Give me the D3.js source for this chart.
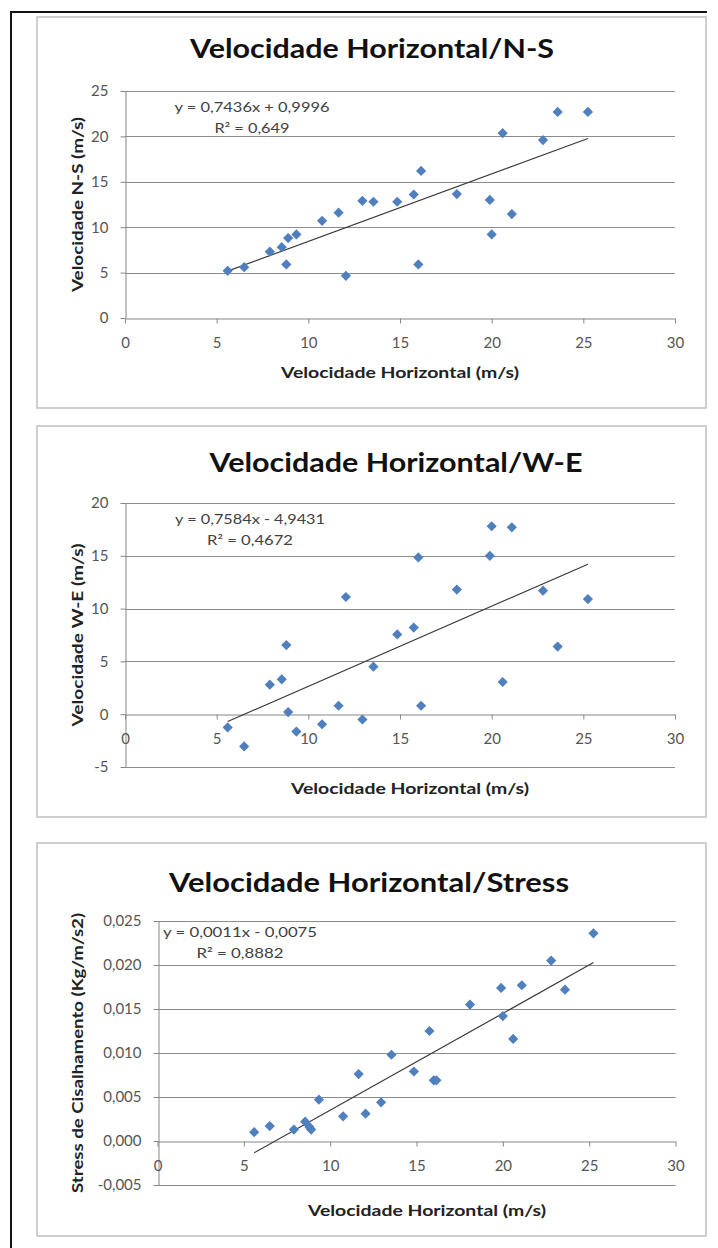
<!DOCTYPE html>
<html>
<head>
<meta charset="utf-8">
<script src="https://cdn.jsdelivr.net/npm/d3@7"></script>
<style>
  body { margin: 0; background: #fff; }
  svg { display: block; }
  text { font-family: Lato, "Open Sans", sans-serif; }
</style>
</head>
<body>
<svg id="sheet" width="718" height="1248"></svg>
<script>
// Horizontal wind speed (m/s) for each observation, shared by all three plots
const horizontalSpeed = [5.6, 6.5, 7.9, 8.55, 8.8, 8.9, 9.35, 10.75, 11.65, 12.05, 12.95, 13.55,
                         14.85, 15.75, 16.0, 16.15, 18.1, 19.9, 20.0, 20.6, 21.1, 22.8, 23.6, 25.25];
// N-S component (m/s)
const speedNS = [5.2, 5.6, 7.3, 7.8, 5.9, 8.8, 9.2, 10.7, 11.6, 4.65, 12.9, 12.8,
                 12.8, 13.6, 5.9, 16.2, 13.65, 13.0, 9.2, 20.35, 11.45, 19.6, 22.7, 22.7];
// W-E component (m/s)
const speedWE = [-1.25, -3.05, 2.8, 3.3, 6.55, 0.2, -1.65, -0.95, 0.8, 11.1, -0.5, 4.5,
                 7.55, 8.2, 14.85, 0.8, 11.8, 15.0, 17.8, 3.05, 17.7, 11.7, 6.4, 10.9];
// Shear stress (Kg/m/s2)
const shearStress = [0.0010, 0.0017, 0.0013, 0.0022, 0.0016, 0.0013, 0.0047, 0.0028, 0.0076, 0.0031, 0.0044, 0.0098,
                     0.0079, 0.0125, 0.0069, 0.0069, 0.0155, 0.0174, 0.0142, 0.0116, 0.0177, 0.0205, 0.0172, 0.0236];

// Axis ticks
const ticksX = [0, 5, 10, 15, 20, 25, 30];
const ticksNS = [0, 5, 10, 15, 20, 25];
const ticksWE = [-5, 0, 5, 10, 15, 20];
const ticksStress = [-0.005, 0, 0.005, 0.010, 0.015, 0.020, 0.025];

// Linear fits printed on each plot
const fitSlopes = [0.7436, 0.7584, 0.0011];
const fitIntercepts = [0.9996, -4.9431, -0.0075];
const fitR2 = ["0,649", "0,4672", "0,8882"];

// Texts
const chartTitles = ["Velocidade Horizontal/N-S", "Velocidade Horizontal/W-E", "Velocidade Horizontal/Stress"];
const yTitles = ["Velocidade N-S (m/s)", "Velocidade W-E  (m/s)", "Stress de Cisalhamento (Kg/m/s2)"];
const xTitle = "Velocidade Horizontal (m/s)";

const comma = s => s.replace(".", ",").replace("\u2212", "-");
const fmtInt = d => comma(d3.format("d")(d));
const fmtStress = d => comma(d3.format(".3f")(d));

// Layout of each panel (pixels)
const panels = [
  { frame: [37, 17, 706, 408], plot: [125, 675, 91, 318], yDomain: [0, 25], yTicks: ticksNS, yValues: speedNS, yFmt: fmtInt,
    title: { x: 372, y: 58, w: 364 }, xt: { x: 400, y: 372 }, yt: { x: 77, w: 175 }, eq: { x: 252, y: 107, w1: 155, w2: 75 } },
  { frame: [37, 426, 706, 817], plot: [125, 675, 503, 767], yDomain: [-5, 20], yTicks: ticksWE, yValues: speedWE, yFmt: fmtInt,
    title: { x: 396, y: 472, w: 373 }, xt: { x: 410, y: 788 }, yt: { x: 77, w: 183 }, eq: { x: 250, y: 519, w1: 150, w2: 86 } },
  { frame: [37, 843, 706, 1236], plot: [157.5, 675.5, 921, 1185], yDomain: [-0.005, 0.025], yTicks: ticksStress, yValues: shearStress, yFmt: fmtStress,
    title: { x: 369, y: 892, w: 400 }, xt: { x: 427, y: 1210 }, yt: { x: 77, w: 280 }, eq: { x: 240, y: 932, w1: 154, w2: 87 } }
];

const svg = d3.select("#sheet");

// Outer page frame (top and left edges)
svg.append("line").attr("x1", 11).attr("x2", 11).attr("y1", 11).attr("y2", 1248)
  .attr("stroke", "#111").attr("stroke-width", 2);
svg.append("line").attr("x1", 10).attr("x2", 707).attr("y1", 12).attr("y2", 12)
  .attr("stroke", "#111").attr("stroke-width", 2);

panels.forEach((p, i) => {
  const g = svg.append("g");
  const [fx0, fy0, fx1, fy1] = p.frame;
  g.append("rect").attr("x", fx0).attr("y", fy0).attr("width", fx1 - fx0).attr("height", fy1 - fy0)
    .attr("fill", "#fff").attr("stroke", "#c4c4c4").attr("stroke-width", 1.6);

  const [px0, px1, py0, py1] = p.plot;
  const x = d3.scaleLinear().domain([0, 30]).range([px0, px1]);
  const y = d3.scaleLinear().domain(p.yDomain).range([py1, py0]);

  // Horizontal gridlines
  g.append("g").selectAll("line").data(p.yTicks.filter(t => t !== 0)).join("line")
    .attr("x1", x(0)).attr("x2", x(30))
    .attr("y1", d => Math.round(y(d)) + 0.5).attr("y2", d => Math.round(y(d)) + 0.5)
    .attr("stroke", "#8c8c8c").attr("stroke-width", 1);

  // Y axis
  const yAxis = g.append("g").attr("transform", `translate(${Math.round(x(0)) + 0.5},0)`)
    .call(d3.axisLeft(y).tickValues(p.yTicks).tickFormat(p.yFmt).tickSize(5).tickSizeOuter(0).tickPadding(12));
  // X axis drawn through y = 0
  const y0 = Math.round(y(0)) + 0.5;
  const xAxis = g.append("g").attr("transform", `translate(0,${y0})`)
    .call(d3.axisBottom(x).tickValues(ticksX).tickFormat(fmtInt).tickSize(5).tickSizeOuter(0));
  xAxis.selectAll(".tick text").attr("y", 24).attr("dy", "0.35em");

  [yAxis, xAxis].forEach(a => {
    a.select(".domain").attr("stroke", "#868686");
    a.selectAll(".tick line").attr("stroke", "#868686");
    a.selectAll(".tick text").attr("fill", "#555").attr("font-size", 15)
      .attr("font-family", "Lato, 'Open Sans', sans-serif");
  });

  // Trend line over the observed range
  const [xMin, xMax] = d3.extent(horizontalSpeed);
  const fit = v => fitSlopes[i] * v + fitIntercepts[i];
  g.append("line")
    .attr("x1", x(xMin)).attr("y1", y(fit(xMin)))
    .attr("x2", x(xMax)).attr("y2", y(fit(xMax)))
    .attr("stroke", "#3a3a3a").attr("stroke-width", 1.2);

  // Diamond markers
  const diamond = d3.symbol(d3.symbolSquare, 52)();
  g.append("g").selectAll("path").data(horizontalSpeed.map((h, k) => [h, p.yValues[k]])).join("path")
    .attr("d", diamond)
    .attr("transform", d => `translate(${x(d[0])},${y(d[1])}) rotate(45)`)
    .attr("fill", "#4f7fbd");

  // Fit equation and R²
  const sign = fitIntercepts[i] < 0 ? "-" : "+";
  const eqText = `y = ${comma(fitSlopes[i].toFixed(4))}x ${sign} ${comma(Math.abs(fitIntercepts[i]).toFixed(4))}`;
  g.append("text").attr("x", p.eq.x).attr("y", p.eq.y).attr("dy", "0.35em").attr("text-anchor", "middle")
    .attr("font-size", 14).attr("fill", "#404040")
    .attr("textLength", p.eq.w1).attr("lengthAdjust", "spacingAndGlyphs").text(eqText);
  g.append("text").attr("x", p.eq.x).attr("y", p.eq.y + 21).attr("dy", "0.35em").attr("text-anchor", "middle")
    .attr("font-size", 14).attr("fill", "#404040")
    .attr("textLength", p.eq.w2).attr("lengthAdjust", "spacingAndGlyphs").text(`R² = ${fitR2[i]}`);

  // Chart title
  g.append("text").attr("x", p.title.x).attr("y", p.title.y).attr("text-anchor", "middle")
    .attr("font-size", 27).attr("font-weight", "bold").attr("fill", "#111")
    .attr("textLength", p.title.w).attr("lengthAdjust", "spacingAndGlyphs").text(chartTitles[i]);

  // Axis titles
  g.append("text").attr("x", p.xt.x).attr("y", p.xt.y).attr("dy", "0.35em").attr("text-anchor", "middle")
    .attr("font-size", 16).attr("font-weight", "bold").attr("fill", "#222")
    .attr("textLength", 238).attr("lengthAdjust", "spacingAndGlyphs").text(xTitle);
  const yMid = (py0 + py1) / 2;
  g.append("text").attr("transform", `translate(${p.yt.x},${yMid}) rotate(-90)`)
    .attr("dy", "0.35em").attr("text-anchor", "middle")
    .attr("font-size", 16).attr("font-weight", "bold").attr("fill", "#222")
    .attr("textLength", p.yt.w).attr("lengthAdjust", "spacingAndGlyphs").text(yTitles[i]);
});
</script>
</body>
</html>
